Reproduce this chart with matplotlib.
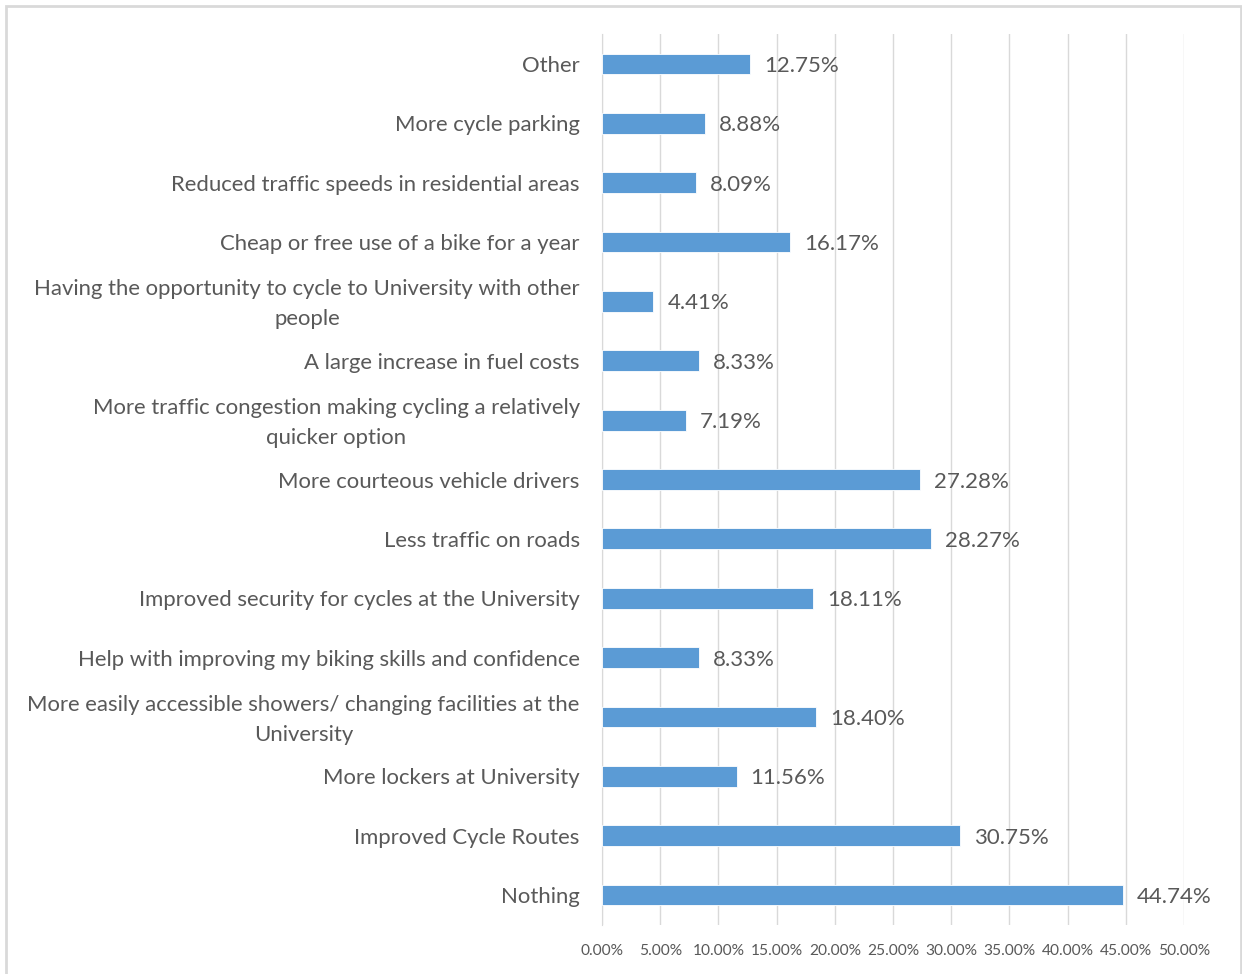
import matplotlib
matplotlib.use('Agg')
import matplotlib.pyplot as plt
from matplotlib.patches import Rectangle
from matplotlib.ticker import MultipleLocator, FuncFormatter
from matplotlib.transforms import ScaledTranslation

# survey answers, listed bottom to top as drawn
categories = [
    "Nothing",
    "Improved Cycle Routes",
    "More lockers at University",
    "More easily accessible showers/ changing facilities at the\nUniversity",
    "Help with improving my biking skills and confidence",
    "Improved security for cycles at the University",
    "Less traffic on roads",
    "More courteous vehicle drivers",
    "More traffic congestion making cycling a relatively\nquicker option",
    "A large increase in fuel costs",
    "Having the opportunity to cycle to University with other\npeople",
    "Cheap or free use of a bike for a year",
    "Reduced traffic speeds in residential areas",
    "More cycle parking",
    "Other",
]
percent = [44.74, 30.75, 11.56, 18.40, 8.33, 18.11, 28.27, 27.28,
           7.19, 8.33, 4.41, 16.17, 8.09, 8.88, 12.75]

bar_col = "#5B9BD5"
txt_col = "#595959"
grid_col = "#D9D9D9"

plt.rcParams['font.family'] = ['Lato', 'DejaVu Sans']

fig = plt.figure(figsize=(12.42, 9.74), dpi=100)
ax = fig.add_axes([0.4847, 0.0506, 0.4686, 0.9142])

ypos = list(range(len(categories)))
bars = ax.barh(ypos, percent, height=0.35, color=bar_col,
               edgecolor="white", linewidth=0.6, zorder=3)

for b, v in zip(bars, percent):
    ax.annotate("{0:.2f}%".format(v), (b.get_width(), b.get_y() + b.get_height() / 2),
                xytext=(14, -2), textcoords="offset pixels",
                va="center", ha="left", fontsize=16, color=txt_col, zorder=4)

ax.set_xlim(0, 50)
ax.set_ylim(-0.5, len(categories) - 0.5)
ax.xaxis.set_major_locator(MultipleLocator(5))
ax.xaxis.set_major_formatter(FuncFormatter(lambda x, p: "{0:.2f}%".format(x)))
ax.grid(axis="x", color=grid_col, linewidth=1.0, zorder=0)

ax.set_yticks(ypos)
ax.set_yticklabels(categories, multialignment="center", linespacing=1.6)
ax.tick_params(axis="y", length=0, pad=16, labelsize=15.9, labelcolor=txt_col)
ax.tick_params(axis="x", length=0, pad=14, labelsize=11.2, labelcolor=txt_col)

# two-line labels sit a little high
for lbl in ax.get_yticklabels():
    if "\n" in lbl.get_text():
        lbl.set_transform(lbl.get_transform() +
                          ScaledTranslation(0, 4 / 100.0, fig.dpi_scale_trans))

for s in ["top", "right", "bottom"]:
    ax.spines[s].set_visible(False)
ax.spines["left"].set_color(grid_col)

# light frame round the chart area
fig.patches.append(Rectangle((5.5 / 1242, -0.05), 1235.0 / 1242, 0.05 + 968.0 / 974,
                             transform=fig.transFigure, fill=False,
                             edgecolor="#D9D9D9", linewidth=2.0))

fig.savefig("out.png", dpi=100)
